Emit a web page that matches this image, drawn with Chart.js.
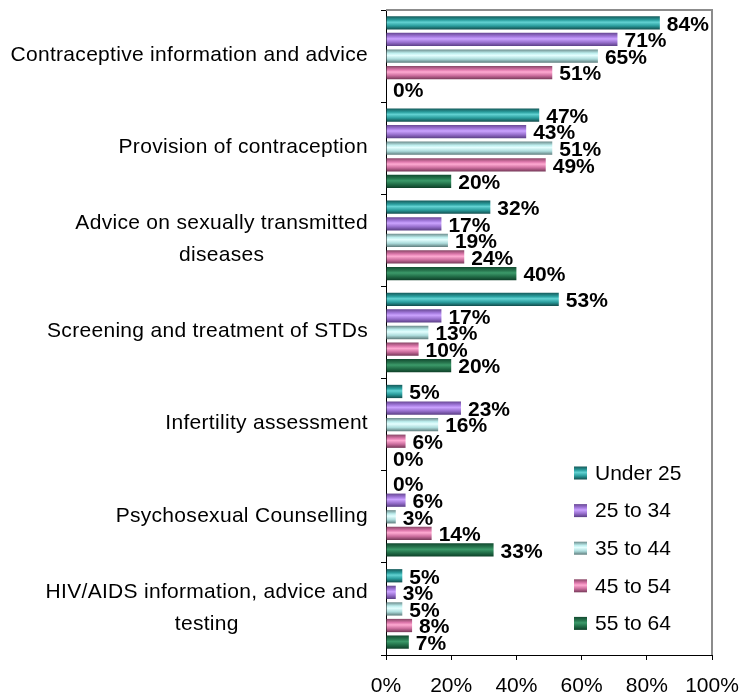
<!DOCTYPE html>
<html>
<head>
<meta charset="utf-8">
<script src="https://cdn.jsdelivr.net/npm/chart.js@4"></script>
<style>
  html, body { margin: 0; padding: 0; background: #fff; }
  #wrap { width: 755px; height: 695px; }
</style>
</head>
<body>
<div id="wrap"><canvas id="servicesChart" width="755" height="695"></canvas></div>
<script>
const categories = [
    ["Contraceptive information and advice"],
    ["Provision of contraception"],
    ["Advice on sexually transmitted", "diseases"],
    ["Screening and treatment of STDs"],
    ["Infertility assessment"],
    ["Psychosexual Counselling"],
    ["HIV/AIDS information, advice and", "testing"]
];
const seriesNames = ["Under 25", "25 to 34", "35 to 44", "45 to 54", "55 to 64"];
const under25 = [84, 47, 32, 53, 5, 0, 5];
const age25to34 = [71, 43, 17, 17, 23, 6, 3];
const age35to44 = [65, 51, 19, 13, 16, 3, 5];
const age45to54 = [51, 49, 24, 10, 6, 14, 8];
const age55to64 = [0, 20, 40, 20, 0, 33, 7];
const xTicks = [0, 20, 40, 60, 80, 100];

// top -> bottom shading of each bar (cylinder look)
const shades = [
    ['#165a5a', '#2a9f9f', '#62d2d2', '#2a9d9d', '#124c4c'],
    ['#684894', '#a47ade', '#cba3ff', '#9870ce', '#5a3e84'],
    ['#6c8c8c', '#bdeeee', '#e4ffff', '#addcdc', '#5e7c7c'],
    ['#884666', '#de78ac', '#ffaad2', '#cc6e9e', '#763858'],
    ['#124a30', '#28774f', '#3c9a6a', '#226e48', '#0e3f28']
];
const stops = [0, 0.28, 0.45, 0.72, 1];

const FONT = "'Liberation Sans', Arial, sans-serif";

function makeGrad(ctx, i, y0, y1) {
    let g = ctx.createLinearGradient(0, y0, 0, y1);
    shades[i].forEach((c, k) => g.addColorStop(stops[k], c));
    return g;
}

const allValues = [under25, age25to34, age35to44, age45to54, age55to64];

const chartDecor = {
    id: 'chartDecor',
    beforeDatasetsDraw(chart) {
        const ctx = chart.ctx;
        chart.data.datasets.forEach((ds, i) => {
            chart.getDatasetMeta(i).data.forEach((el) => {
                const p = el.getProps(['y', 'height'], true);
                const g = makeGrad(ctx, i, p.y - p.height / 2, p.y + p.height / 2);
                el.options = Object.assign({}, el.options, { backgroundColor: g });
            });
        });
    },
    afterDatasetsDraw(chart) {
        const ctx = chart.ctx;
        ctx.save();
        ctx.font = "bold 21px " + FONT;
        ctx.fillStyle = '#000';
        ctx.textAlign = 'left';
        ctx.textBaseline = 'middle';
        chart.data.datasets.forEach((ds, i) => {
            chart.getDatasetMeta(i).data.forEach((el, j) => {
                const p = el.getProps(['x', 'y'], true);
                ctx.fillText(ds.data[j] + '%', p.x + 7, p.y + 2);
            });
        });
        ctx.restore();
    },
    afterDraw(chart) {
        const ctx = chart.ctx;
        const a = chart.chartArea;
        ctx.save();
        // grey frame on top and right
        ctx.strokeStyle = '#8c8c8c';
        ctx.lineWidth = 2;
        ctx.beginPath();
        ctx.moveTo(a.left, a.top);
        ctx.lineTo(a.right, a.top);
        ctx.lineTo(a.right, a.bottom);
        ctx.stroke();

        // category labels, each block right aligned, lines centred in the block
        const yScale = chart.scales.y;
        ctx.font = "21px " + FONT;
        ctx.letterSpacing = '0.3px';
        ctx.fillStyle = '#000';
        ctx.textBaseline = 'middle';
        ctx.textAlign = 'center';
        categories.forEach((lines, j) => {
            const cy = yScale.getPixelForValue(j);
            const w = Math.max(...lines.map(l => ctx.measureText(l).width));
            const cx = a.left - 18 - w / 2;
            const lh = 32;
            lines.forEach((l, k) => {
                ctx.fillText(l, cx, cy - 1 + (k - (lines.length - 1) / 2) * lh);
            });
        });

        // legend
        ctx.letterSpacing = '0px';
        ctx.textAlign = 'left';
        const lx = a.left + 188;
        const ly = a.bottom - 182;
        seriesNames.forEach((name, i) => {
            const y = ly + i * 37.6;
            ctx.fillStyle = makeGrad(ctx, i, y - 6.5, y + 6.5);
            ctx.fillRect(lx, y - 6.5, 13, 13);
            ctx.fillStyle = '#000';
            ctx.fillText(name, lx + 21, y + 1);
        });
        ctx.restore();
    }
};

new Chart(document.getElementById('servicesChart'), {
    type: 'bar',
    data: {
        labels: categories.map(c => c.join(' ')),
        datasets: seriesNames.map((name, i) => ({
            label: name,
            data: allValues[i],
            backgroundColor: shades[i][2],
            borderWidth: 0,
            categoryPercentage: 0.9,
            barPercentage: 0.8
        }))
    },
    options: {
        indexAxis: 'y',
        responsive: false,
        animation: false,
        layout: { padding: { top: 10, right: 43, left: 0, bottom: 0 } },
        plugins: {
            legend: { display: false },
            tooltip: { enabled: false }
        },
        scales: {
            x: {
                min: 0,
                max: 100,
                afterBuildTicks(scale) {
                    scale.ticks = xTicks.map(v => ({ value: v }));
                },
                afterFit(scale) { scale.height = 40; },
                ticks: {
                    color: '#000',
                    font: { family: FONT, size: 21 },
                    padding: 14,
                    callback: (v) => v + '%'
                },
                grid: { drawOnChartArea: false, color: '#000', tickLength: 5 },
                border: { color: '#000', width: 1 }
            },
            y: {
                afterFit(scale) { scale.width = 386; },
                ticks: { display: false },
                grid: { drawOnChartArea: false, color: '#000', tickLength: 5, offset: true },
                border: { color: '#000', width: 1 }
            }
        }
    },
    plugins: [chartDecor]
});
</script>
</body>
</html>
